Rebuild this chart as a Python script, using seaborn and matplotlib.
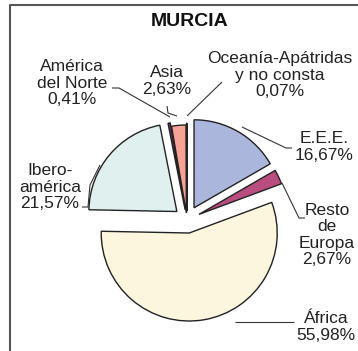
import matplotlib
matplotlib.use("Agg")
import matplotlib.pyplot as plt
import seaborn as sns

# Foreign residents in Murcia by origin (%)
regions = ["E.E.E.", "Resto de Europa", "África", "Iberoamérica",
           "América del Norte", "Asia", "Oceanía-Apátridas y no consta"]
shares = [16.67, 2.67, 55.98, 21.57, 0.41, 2.63, 0.07]
label_texts = ["E.E.E.\n16,67%", "Resto\nde\nEuropa\n2,67%", "África\n55,98%",
               "Ibero-\namérica\n21,57%", "América\ndel Norte\n0,41%",
               "Asia\n2,63%", "Oceanía-Apátridas\ny no consta\n0,07%"]
slice_colors = ["#aab6dc", "#b94d7f", "#fcf6df", "#dff0ef",
                "#7d2b84", "#f6a396", "#444444"]

sns.set_style("white")
plt.rcParams["font.family"] = ["Liberation Sans", "DejaVu Sans"]

W, H = 358, 351
CX, CY, R = 187, 220, 88


def P(x, y):
    """Pixel position -> data coordinates (pie centred at origin, radius 1)."""
    return ((x - CX) / R, (CY - y) / R)


fig = plt.figure(figsize=(W / 100, H / 100), dpi=100)
ax = fig.add_axes([0, 0, 1, 1])

palette = sns.color_palette(slice_colors)
explode = [0.16, 0.15, 0.15, 0.15, 0.12, 0.08, 0.10]
ax.pie(shares, colors=palette, startangle=90, counterclock=False,
       explode=explode, radius=1, center=(0, 0),
       wedgeprops=dict(edgecolor="#222222", linewidth=1.0))

ax.set_xlim(-CX / R, (W - CX) / R)
ax.set_ylim(-(H - CY) / R, CY / R)
ax.set_aspect("equal")
ax.axis("off")

# label positions (pixel centres) and leader lines
label_pos = [(324, 147), (327, 235), (326, 327), (50, 187),
             (72, 83), (167, 81), (280, 75)]
leaders = [
    [(242, 127), (286, 148), (292, 148)],
    [(282, 183), (299, 218), (305, 218)],
    [(235, 322), (294, 322)],
    [(82, 207), (88, 207), (90, 185), (100, 165)],
    [(112, 88), (119, 88), (170, 117)],
    [(167, 106), (168, 113), (177, 116)],
    [(222, 82), (187, 116)],
]

for txt, (px, py) in zip(label_texts, label_pos):
    x, y = P(px, py)
    ax.text(x, y, txt, ha="center", va="center", fontsize=12.5,
            color="#222222", linespacing=1.12)

for pts in leaders:
    xy = [P(*p) for p in pts]
    ax.plot([p[0] for p in xy], [p[1] for p in xy], color="#333333",
            lw=0.8, solid_capstyle="butt")

tx, ty = P(190, 21)
ax.text(tx, ty, "MURCIA", ha="center", va="center", fontsize=14,
        fontweight="bold", color="#111111")

# frame (left and top edges)
x0, y0 = P(10, 5)
x1, _ = P(W + 5, 5)
_, y1 = P(10, H + 5)
ax.plot([x0, x0, x1], [y1, y0, y0], color="#555555", lw=1.5,
        clip_on=False)

fig.savefig("out.png", dpi=100)
